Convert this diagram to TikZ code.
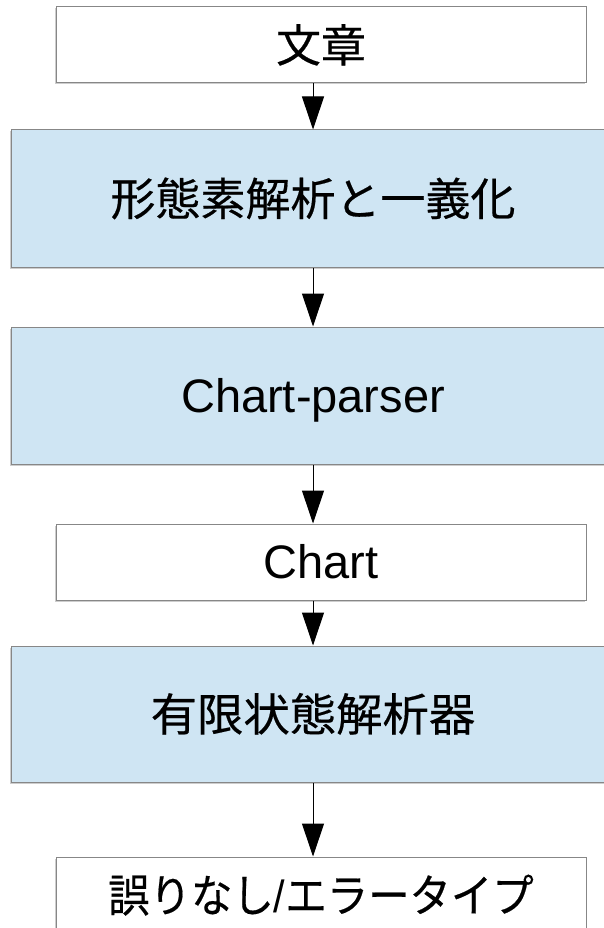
\documentclass[tikz,border=0pt]{standalone}
\usepackage{graphicx}
\usepackage{fontspec}
\setmainfont{Liberation Sans}
\newfontfamily\jp[FakeBold=0.4]{Noto Sans CJK JP}
\usetikzlibrary{arrows.meta,shadows}
\definecolor{boxblue}{RGB}{207,229,243}
\definecolor{boxline}{RGB}{135,135,135}
\definecolor{shadowgray}{RGB}{205,205,205}
\begin{document}
\begin{tikzpicture}[x=1pt,y=-1pt,
  base/.style={draw=boxline, line width=1pt, inner sep=0pt, anchor=center,
    drop shadow={shadow xshift=-1.5pt, shadow yshift=-1.5pt, fill=shadowgray, opacity=1}},
  whitebox/.style={base, fill=white, minimum width=530pt},
  bluebox/.style={base, fill=boxblue, minimum width=604pt},
  jptext/.style={font=\jp\fontsize{45}{54}\selectfont, text height=37pt, text depth=3pt},
  lattext/.style={font=\fontsize{47}{56}\selectfont, text height=33.6pt, text depth=0pt},
  flow/.style={draw=black, line width=1pt, -{Triangle[width=22pt,length=33pt]}}]
\useasboundingbox (0,0) rectangle (604,928);
\clip (0,0) rectangle (604,928);
\coordinate (ax) at (313,0);
\node[whitebox, jptext, minimum height=76pt] (b1) at (321,45) {文章};
\node[bluebox, jptext, minimum height=137pt] (b2) at (313,198.5) {形態素解析と一義化};
\node[bluebox, lattext, minimum height=137pt] (b3) at (313,395.5) {Chart-parser};
\node[whitebox, lattext, minimum height=76pt] (b4) at (321,562) {Chart};
\node[bluebox, jptext, minimum height=136pt] (b5) at (313,714) {\scalebox{1.03}[1]{有限状態解析器}};
\node[whitebox, jptext, minimum height=76pt] (b6) at (321,895) {\scalebox{0.92}[1]{誤りなし{\fontspec{Liberation Sans}/}エラータイプ}};
\draw[flow] (b1.south -| ax) -- (b2.north -| ax);
\draw[flow] (b2.south -| ax) -- (b3.north -| ax);
\draw[flow] (b3.south -| ax) -- (b4.north -| ax);
\draw[flow] (b4.south -| ax) -- (b5.north -| ax);
\draw[flow] (b5.south -| ax) -- (b6.north -| ax);
\end{tikzpicture}
\end{document}
